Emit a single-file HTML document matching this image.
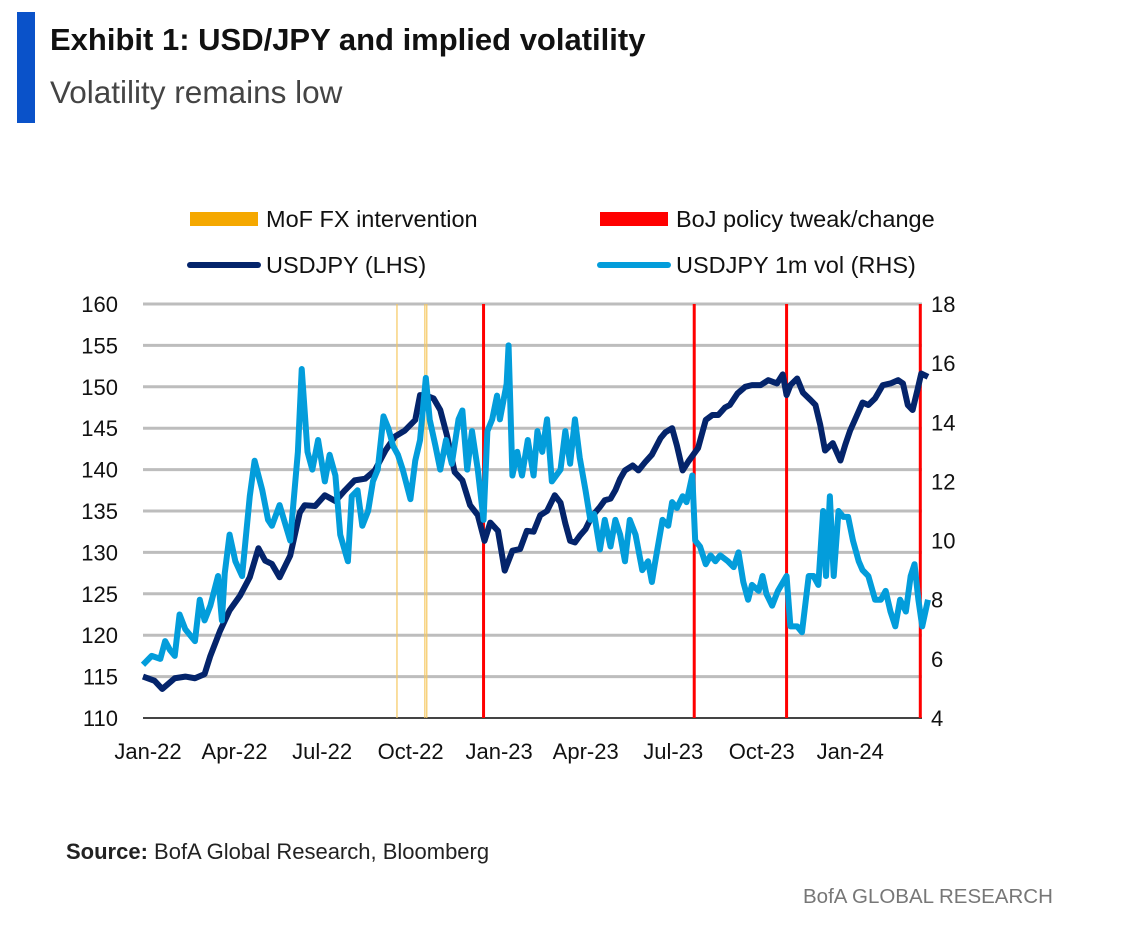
<!DOCTYPE html>
<html><head><meta charset="utf-8"><style>
body{margin:0;background:#fff;font-family:"Liberation Sans",sans-serif;}
#wrap{position:relative;width:1147px;height:929px;overflow:hidden;}
</style></head><body>
<div id="wrap">
<div style="position:absolute;left:17px;top:12px;width:18px;height:111px;background:#0a52c9"></div>
<div style="position:absolute;left:50px;top:22px;font-size:31px;font-weight:bold;color:#111;white-space:nowrap">Exhibit 1: USD/JPY and implied volatility</div>
<div style="position:absolute;left:50px;top:74px;font-size:31.5px;color:#444;white-space:nowrap">Volatility remains low</div>
<svg id="chart" width="1147" height="929" style="position:absolute;left:0;top:0"></svg>
<div style="position:absolute;left:66px;top:839px;font-size:22px;color:#222;white-space:nowrap"><b>Source:</b> BofA Global Research, Bloomberg</div>
<div style="position:absolute;left:803px;top:885px;font-size:20.5px;color:#777;white-space:nowrap">BofA GLOBAL RESEARCH</div>
</div>
<script>
const usdDays=[0,12,20,33,44,54,64,70,80,90,101,111,120,127,134,142,153,163,168,179,189,200,210,220,231,241,252,262,272,283,288,293,302,309,316,324,332,340,348,355,361,369,376,384,392,399,406,413,420,428,434,439,444,449,454,460,465,470,475,480,486,491,496,501,509,515,522,529,538,543,550,555,561,567,572,577,585,592,598,605,610,618,626,633,642,650,659,665,669,673,680,686,694,699,704,709,717,725,730,735,740,748,754,761,769,777,785,790,795,800,805,809,816];
const usdjpy=[115,114.5,113.5,114.8,115,114.8,115.3,117.5,120.5,123,124.8,127,130.5,129,128.6,127,129.6,134.8,135.7,135.6,136.9,136.2,137.5,138.7,138.9,139.9,142.3,144,144.7,146,149,149,148.6,147.2,144.1,139.7,138.7,135.7,134.5,131.4,133.6,132.6,127.8,130.2,130.4,132.6,132.5,134.5,135,136.9,136,133.5,131.4,131.2,132,132.8,134,134.8,135.5,136.3,136.5,137.5,138.9,139.9,140.5,139.9,140.9,141.8,143.8,144.5,145,142.9,139.9,141,141.8,142.6,146,146.6,146.6,147.5,147.8,149.2,150,150.2,150.2,150.8,150.4,151.5,149,150.2,151,149.3,148.4,147.8,145.4,142.3,143.2,141.1,143,144.7,146,148.1,147.8,148.6,150.2,150.4,150.8,150.4,147.8,147.2,149.6,151.6,151.2];
const volDays=[0,9,18,23,28,33,38,44,54,59,64,70,78,82,85,90,96,103,111,116,124,130,134,142,153,161,165,171,176,182,189,194,200,205,213,217,223,228,234,239,244,250,255,260,265,270,278,283,288,294,298,304,309,315,321,328,332,337,342,348,354,358,363,368,371,378,380,384,389,394,400,406,410,415,420,425,434,439,444,449,454,460,465,469,475,480,486,491,496,501,506,512,519,525,529,532,540,546,550,555,561,565,571,574,579,585,590,595,600,608,614,619,624,629,633,640,644,648,654,660,669,673,680,685,692,697,702,707,710,714,718,723,728,733,738,744,748,754,761,767,772,777,782,787,793,798,802,806,810,816];
const vol=[5.8,6.1,6,6.6,6.3,6.1,7.5,7,6.6,8,7.3,7.8,8.8,7.3,8.9,10.2,9.3,8.8,11.5,12.7,11.7,10.7,10.5,11.2,10,13,15.8,13,12.4,13.4,12,12.9,12.2,10.2,9.3,11.5,11.7,10.5,11,12,12.4,14.2,13.8,13.2,12.9,12.4,11.4,12.7,13.4,15.5,14.1,13.2,12.4,13.4,12.6,14.1,14.4,12.4,13.7,12.4,10.7,13.7,14.1,14.9,14.1,15.3,16.6,12.2,13,12.2,13.4,12.2,13.7,13,14.1,12,12.4,13.7,12.6,14.1,12.8,11.7,10.7,10.9,9.7,10.7,9.8,10.7,10.2,9.3,10.7,10.2,9,9.3,8.6,9.2,10.7,10.5,11.3,11.1,11.5,11.3,12.2,10,9.8,9.2,9.5,9.3,9.5,9.3,9.1,9.6,8.6,8,8.5,8.3,8.8,8.2,7.8,8.3,8.8,7.1,7.1,6.9,8.8,8.8,8.5,11,8.8,11.5,8.8,11,10.8,10.8,10,9.3,9,8.8,8,8,8.3,7.6,7.1,8,7.6,8.8,9.2,8,7.1,8];
const mofDays=[264,293,295];
const bojDays=[354,573,669,808];
const xTickLabels=["Jan-22","Apr-22","Jul-22","Oct-22","Jan-23","Apr-23","Jul-23","Oct-23","Jan-24"];
const xTickDays=[0,90,181,273,365,455,546,638,730];
const leftTicks=[110,115,120,125,130,135,140,145,150,155,160];
const rightTicks=[4,6,8,10,12,14,16,18];

const NS="http://www.w3.org/2000/svg";
const svg=document.getElementById('chart');
const X0=143,X1=922,Y0=718,Y1=304;
const xs=d=>X0+d*0.962;
const yL=v=>Y0-(v-110)/50*(Y0-Y1);
const yR=v=>Y0-(v-4)/14*(Y0-Y1);
function mk(tag,attrs){const e=document.createElementNS(NS,tag);for(const k in attrs)e.setAttribute(k,attrs[k]);svg.appendChild(e);return e;}

leftTicks.forEach(t=>{
  if(t>110){const g=mk('line',{x1:X0,x2:X1,y1:yL(t),y2:yL(t),stroke:'#bdbdbd','stroke-width':3});
  
  }
  const tx=mk('text',{x:118,y:yL(t)+8,'text-anchor':'end','font-size':22,fill:'#111'});
  tx.textContent=t;
  
  
});
rightTicks.forEach(t=>{
  const tx=mk('text',{x:931,y:yR(t)+8,'font-size':22,fill:'#111'});
  tx.textContent=t;
  
  
});
const ax=mk('line',{x1:X0,x2:X1,y1:Y0,y2:Y0,stroke:'#444','stroke-width':2});


xTickLabels.forEach((l,i)=>{
  const tx=mk('text',{x:xs(xTickDays[i])+5,y:759,'text-anchor':'middle','font-size':22,fill:'#111'});
  tx.textContent=l;
  
  
});
mofDays.forEach(d=>{
  const l=mk('line',{x1:xs(d),x2:xs(d),y1:Y1,y2:Y0,stroke:'#f5c760','stroke-width':1.2});
  
  
});
bojDays.forEach(d=>{
  const l=mk('line',{x1:xs(d),x2:xs(d),y1:Y1,y2:Y0,stroke:'#ff0000','stroke-width':3});
  
  
});
const p1=mk('polyline',{points:usdDays.map((d,i)=>xs(d)+','+yL(usdjpy[i])).join(' '),fill:'none',stroke:'#04246b','stroke-width':6,'stroke-linejoin':'round'});


const p2=mk('polyline',{points:volDays.map((d,i)=>xs(d)+','+yR(vol[i])).join(' '),fill:'none',stroke:'#039ddb','stroke-width':6,'stroke-linejoin':'round'});



const legend=[[190,219,'#f5a800',14,'MoF FX intervention','legend-mof'],[600,219,'#ff0000',14,'BoJ policy tweak/change','legend-boj'],[190,265,'#04246b',6,'USDJPY (LHS)','legend-usdjpy'],[600,265,'#039ddb',6,'USDJPY 1m vol (RHS)','legend-vol']];
legend.forEach(l=>{
  const s=mk('line',{x1:l[0],x2:l[0]+68,y1:l[1],y2:l[1],stroke:l[2],'stroke-width':l[3],'stroke-linecap':l[3]<10?'round':'butt'});
  
  
  const t=mk('text',{x:l[0]+76,y:l[1]+8,'font-size':23.5,fill:'#111'});
  t.textContent=l[4];
  
  
});
</script>
</body></html>
